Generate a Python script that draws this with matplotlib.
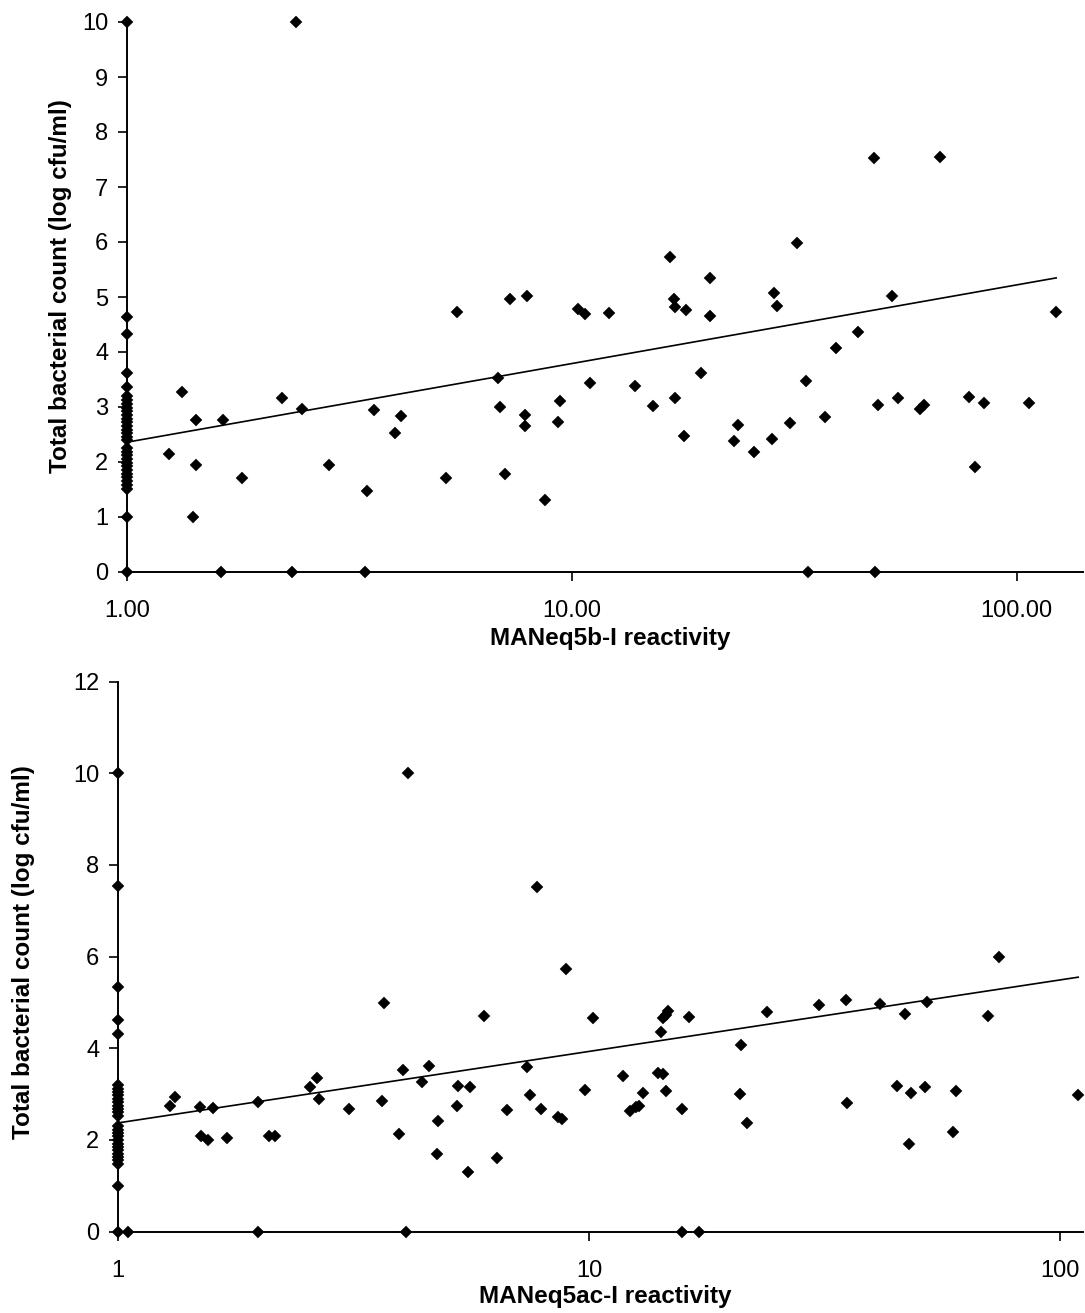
import matplotlib
matplotlib.use("Agg")
import matplotlib.pyplot as plt
import numpy as np
from matplotlib.ticker import FixedLocator, FixedFormatter, NullLocator

plt.rcParams['font.family'] = ['Liberation Sans', 'DejaVu Sans']

# ---------------- data: top panel (MANeq5b-I) ----------------
top_axis_y = [10, 4.64, 4.33, 3.62, 3.36, 3.2, 3.12, 3.05, 2.98, 2.92, 2.85, 2.78,
              2.72, 2.65, 2.58, 2.52, 2.45, 2.4, 2.25, 2.18, 2.12, 2.05, 1.98, 1.92,
              1.85, 1.78, 1.72, 1.65, 1.58, 1.5, 1.0, 0]
top_x = [2.40, 5.51, 7.28, 7.95, 10.3, 10.7, 12.1, 16.6, 17.0, 17.1, 18.1, 20.4, 20.5,
         28.5, 29.0, 32.1, 47.9, 52.5, 67.4, 122.7, 43.9, 7.85, 7.85, 9.4, 9.33, 8.7,
         11.0, 13.9, 15.2, 17.1, 17.9, 19.5, 23.2, 23.6, 25.7, 28.2, 30.9, 33.6, 37.1,
         39.2, 48.9, 54.1, 60.5, 61.9, 78.2, 80.8, 84.5, 106.6, 34.0, 48.0,
         1.24, 1.33, 1.43, 1.43, 1.41, 1.64, 1.81, 2.23, 2.47, 2.84, 3.46, 3.60, 4.01,
         4.14, 5.21, 6.83, 6.88, 7.09, 1.63, 2.35, 3.43]
top_y = [10, 4.73, 4.97, 5.02, 4.79, 4.69, 4.70, 5.73, 4.97, 4.82, 4.76, 5.35, 4.66,
         5.07, 4.83, 5.98, 7.53, 5.02, 7.55, 4.72, 4.37, 2.86, 2.66, 3.10, 2.72, 1.31,
         3.44, 3.39, 3.02, 3.16, 2.47, 3.61, 2.38, 2.68, 2.18, 2.42, 2.71, 3.47, 2.81,
         4.08, 3.03, 3.17, 2.97, 3.03, 3.18, 1.91, 3.07, 3.07, 0, 0,
         2.15, 3.28, 2.77, 1.95, 1.0, 2.77, 1.70, 3.16, 2.97, 1.95, 1.48, 2.94, 2.52,
         2.83, 1.70, 3.53, 3.0, 1.79, 0, 0, 0]
top_trend_intercept = 2.36
top_trend_slope = 1.43  # per decade
top_xticks = [1, 10, 100]
top_xticklabels = ["1.00", "10.00", "100.00"]
top_yticks = list(range(0, 11))

# ---------------- data: bottom panel (MANeq5ac-I) ----------------
bot_axis_y = [10, 7.55, 5.33, 4.61, 4.32, 3.2, 3.12, 3.05, 2.98, 2.9, 2.82, 2.75,
              2.68, 2.6, 2.53, 2.3, 2.22, 2.15, 2.08, 2.0, 1.92, 1.85, 1.78, 1.7,
              1.62, 1.55, 1.47, 1.0, 0]
bot_x = [1.05, 1.29, 1.32, 1.49, 1.50, 1.55, 1.59, 1.70, 1.98, 1.98, 2.09, 2.16, 2.56,
         2.65, 2.67, 3.10, 3.64, 3.67, 3.96, 4.03, 4.08, 4.13, 4.43, 4.57, 4.75, 4.78,
         5.24, 5.26, 5.54, 5.59, 6.0, 6.37, 6.71, 7.39, 7.50, 7.76, 7.90, 8.6, 8.75,
         8.95, 9.79, 10.2, 11.8, 12.2, 12.6, 12.8, 13.0, 14.0, 14.2, 14.4, 14.4, 14.6,
         14.7, 14.55, 15.8, 16.3, 15.8, 17.1, 21.0, 20.9, 21.7, 23.9, 30.8, 35.2, 35.3,
         41.6, 45.0, 47.0, 48.4, 47.9, 51.8, 52.2, 59.3, 60.1, 70.5, 74.3, 109.4]
bot_y = [0, 2.74, 2.93, 2.71, 2.08, 1.99, 2.69, 2.04, 2.82, 0, 2.08, 2.08, 3.16,
         3.35, 2.89, 2.68, 2.84, 4.99, 2.13, 3.52, 0, 10, 3.27, 3.62, 1.70, 2.41,
         2.73, 3.18, 1.30, 3.16, 4.70, 1.61, 2.66, 3.60, 2.97, 7.52, 2.68, 2.50, 2.45,
         5.72, 3.09, 4.65, 3.39, 2.62, 2.71, 2.74, 3.02, 3.47, 4.36, 3.44, 4.67, 3.06,
         4.81, 4.73, 2.68, 4.69, 0, 0, 4.07, 3.0, 2.37, 4.78, 4.94, 5.06, 2.80,
         4.96, 3.17, 4.74, 3.02, 1.90, 3.16, 5.01, 2.17, 3.06, 4.70, 6.0, 2.97]
bot_trend_intercept = 2.37
bot_trend_slope = 1.56  # per decade
bot_xticks = [1, 10, 100]
bot_xticklabels = ["1", "10", "100"]
bot_yticks = list(range(0, 13, 2))

W, H = 1085, 1313
fig = plt.figure(figsize=(W / 100, H / 100), dpi=100)

TICK_FS = 17
LABEL_FS = 17.5


def panel(rect, xs, ys, axis_y, intercept, slope, xlim, ylim, xticks, xticklabels,
          yticks, xlabel, ylabel_xy, xlabel_xy):
    ax = fig.add_axes(rect)
    ax.set_xscale('log')
    ax.set_xlim(*xlim)
    ax.set_ylim(*ylim)
    for s in ['top', 'right']:
        ax.spines[s].set_visible(False)
    for s in ['left', 'bottom']:
        ax.spines[s].set_linewidth(1.4)
        ax.spines[s].set_color('black')
    # trend line
    xmax = max(xs)
    xx = np.logspace(0, np.log10(xmax), 100)
    ax.plot(xx, intercept + slope * np.log10(xx), color='black', lw=1.2, zorder=2)
    # points
    allx = list(xs) + [1.0] * len(axis_y)
    ally = list(ys) + list(axis_y)
    ax.plot(allx, ally, linestyle='none', marker='D', ms=6.4, color='black',
            mew=0.3, clip_on=False, zorder=3)
    ax.xaxis.set_major_locator(FixedLocator(xticks))
    ax.xaxis.set_major_formatter(FixedFormatter(xticklabels))
    ax.xaxis.set_minor_locator(NullLocator())
    ax.set_yticks(yticks)
    ax.tick_params(axis='both', direction='out', length=6.5, width=1.2,
                   labelsize=TICK_FS, colors='black')
    ax.tick_params(axis='x', pad=14)
    ax.tick_params(axis='y', pad=7)
    ax.set_xlabel(xlabel, fontsize=LABEL_FS, fontweight='bold')
    ax.set_ylabel("Total bacterial count (log cfu/ml)", fontsize=LABEL_FS,
                  fontweight='bold')
    ax.yaxis.set_label_coords(ylabel_xy[0] / W, 1 - ylabel_xy[1] / H,
                              transform=fig.transFigure)
    ax.yaxis.label.set_verticalalignment('center')
    ax.xaxis.set_label_coords(xlabel_xy[0] / W, 1 - xlabel_xy[1] / H,
                              transform=fig.transFigure)
    ax.xaxis.label.set_verticalalignment('center')
    ax.xaxis.label.set_horizontalalignment('center')
    return ax


# top panel
top_rect = [127 / W, 1 - 572 / H, (1083 - 127) / W, 550 / H]
ax1 = panel(top_rect, top_x, top_y, top_axis_y, top_trend_intercept, top_trend_slope,
            (1, 141), (0, 10), top_xticks, top_xticklabels, top_yticks,
            "MANeq5b-I reactivity", (61, 286), (610, 639))

# bottom panel
bot_rect = [118 / W, 1 - 1231.5 / H, (1083 - 118) / W, 549.8 / H]
ax2 = panel(bot_rect, bot_x, bot_y, bot_axis_y, bot_trend_intercept, bot_trend_slope,
            (1, 112), (0, 12), bot_xticks, bot_xticklabels, bot_yticks,
            "MANeq5ac-I reactivity", (24, 952), (605, 1297))

fig.savefig("out.png", dpi=100)
